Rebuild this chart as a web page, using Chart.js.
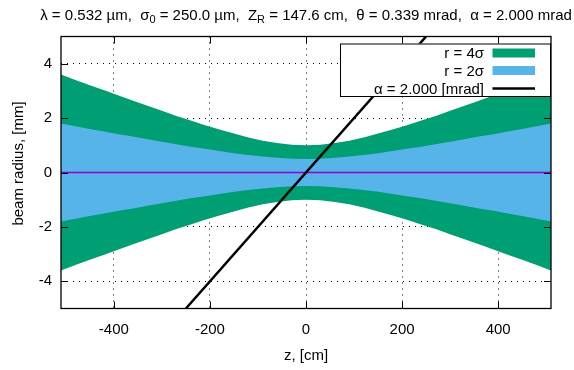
<!DOCTYPE html>
<html lang="en">
<head>
<meta charset="UTF-8">
<title>Gaussian beam envelope</title>
<script src="https://cdn.jsdelivr.net/npm/chart.js"></script>
<style>
  html, body { margin: 0; padding: 0; background: #fff; }
  #wrap { width: 574px; height: 370px; position: relative; }
</style>
</head>
<body>
<div id="wrap"><canvas id="beam"></canvas></div>
<script>
// z along the beam, cm
const zPos = [-510, -480, -450, -420, -390, -360, -330, -300, -270, -240, -210, -180, -150, -120, -90, -60, -30,
              0, 30, 60, 90, 120, 150, 180, 210, 240, 270, 300, 330, 360, 390, 420, 450, 480, 510];
// envelope r = 4 sigma, mm
const r4 = [3.60, 3.40, 3.21, 3.02, 2.83, 2.64, 2.45, 2.27, 2.08, 1.91, 1.74, 1.58, 1.43, 1.29, 1.17, 1.08, 1.02,
            1.00, 1.02, 1.08, 1.17, 1.29, 1.43, 1.58, 1.74, 1.91, 2.08, 2.27, 2.45, 2.64, 2.83, 3.02, 3.21, 3.40, 3.60];
// envelope r = 2 sigma, mm
const r2 = [1.80, 1.70, 1.60, 1.51, 1.41, 1.32, 1.22, 1.13, 1.04, 0.95, 0.87, 0.79, 0.71, 0.64, 0.59, 0.54, 0.51,
            0.50, 0.51, 0.54, 0.59, 0.64, 0.71, 0.79, 0.87, 0.95, 1.04, 1.13, 1.22, 1.32, 1.41, 1.51, 1.60, 1.70, 1.80];
// divergence line, alpha = 2 mrad
const alphaZ = [-250, 250];
const alphaR = [-5, 5];
// beam axis
const axisZ = [-510, 510];
const axisR = [0, 0];

const xTicks = [-400, -200, 0, 200, 400];
const yTicks = [-4, -2, 0, 2, 4];
const keyLabels = ['r = 4σ', 'r = 2σ', 'α = 2.000 [mrad]'];
const titleParts = [
    ['λ = 0.532 µm,  σ', false], ['0', true], [' = 250.0 µm,  Z', false], ['R', true],
    [' = 147.6 cm,  θ = 0.339 mrad,  α = 2.000 mrad', false]
];

const FONT = '"Liberation Sans", Arial, sans-serif';
const GREEN = '#009e73';
const BLUE = '#56b4e9';

const pts = (xs, ys, sign) => xs.map((x, i) => ({ x: x, y: sign * ys[i] }));

// frame, inward ticks, opaque key and titles the gnuplot way
const gnuplotBits = {
    id: 'gnuplotBits',
    afterDatasetsDraw(chart) {
        const ctx = chart.ctx;
        const { left, right, top, bottom } = chart.chartArea;
        const sx = chart.scales.x, sy = chart.scales.y;
        const tl = 7;
        ctx.save();
        ctx.strokeStyle = '#000';
        ctx.lineWidth = 1;
        ctx.beginPath();
        xTicks.forEach(v => {
            const p = Math.round(sx.getPixelForValue(v)) + 0.5;
            ctx.moveTo(p, bottom); ctx.lineTo(p, bottom - tl);
            ctx.moveTo(p, top); ctx.lineTo(p, top + tl);
        });
        yTicks.forEach(v => {
            const p = Math.round(sy.getPixelForValue(v)) + 0.5;
            ctx.moveTo(left, p); ctx.lineTo(left + tl, p);
            ctx.moveTo(right, p); ctx.lineTo(right - tl, p);
        });
        ctx.stroke();

        // key
        const ds = chart.data.datasets;
        const kx0 = 340, kx1 = right, ky0 = top + 7, ky1 = top + 59.5;
        ctx.fillStyle = '#fff';
        ctx.fillRect(kx0, ky0, kx1 - kx0, ky1 - ky0);
        ctx.lineWidth = 1;
        ctx.strokeRect(kx0 + 0.5, ky0 + 0.5, kx1 - kx0 - 1, ky1 - ky0);
        ctx.font = '15px ' + FONT;
        ctx.textAlign = 'right';
        ctx.textBaseline = 'middle';
        const rows = [ky0 + 9.5, ky0 + 27, ky0 + 45];
        const sw0 = right - 58.5, sw1 = right - 16;
        keyLabels.forEach((t, i) => {
            ctx.fillStyle = '#000';
            ctx.fillText(t, right - 67, rows[i] + 1);
            if (i < 2) {
                ctx.fillStyle = ds[i * 2].backgroundColor;
                ctx.fillRect(sw0, rows[i] - 4.5, sw1 - sw0, 9);
            } else {
                ctx.strokeStyle = ds[5].borderColor;
                ctx.lineWidth = ds[5].borderWidth;
                ctx.beginPath();
                ctx.moveTo(sw0, rows[i]); ctx.lineTo(sw1, rows[i]);
                ctx.stroke();
            }
        });

        // frame
        ctx.strokeStyle = '#000';
        ctx.lineWidth = 1.3;
        ctx.strokeRect(left, top, right - left, bottom - top);
        ctx.restore();
    },
    afterDraw(chart) {
        const ctx = chart.ctx;
        const { left, right, top, bottom } = chart.chartArea;
        ctx.save();
        ctx.fillStyle = '#000';
        ctx.textBaseline = 'alphabetic';
        // top title with subscripts
        const big = '15px ' + FONT, small = '11px ' + FONT;
        let w = 0;
        titleParts.forEach(([t, sub]) => { ctx.font = sub ? small : big; w += ctx.measureText(t).width; });
        let x = (left + right) / 2 - w / 2;
        ctx.textAlign = 'left';
        titleParts.forEach(([t, sub]) => {
            ctx.font = sub ? small : big;
            ctx.fillText(t, x, sub ? 23 : 19.5);
            x += ctx.measureText(t).width;
        });
        // axis titles
        ctx.font = big;
        ctx.textAlign = 'center';
        ctx.fillText('z, [cm]', (left + right) / 2, bottom + 51);
        ctx.translate(23, (top + bottom) / 2 - 9);
        ctx.rotate(-Math.PI / 2);
        ctx.fillText('beam radius, [mm]', 0, 0);
        ctx.restore();
    }
};

const band = (data, color, fillTo, order) => ({
    data: data, backgroundColor: color, borderColor: 'rgba(0,0,0,0)', borderWidth: 0,
    pointRadius: 0, fill: fillTo, order: order, tension: 0
});

new Chart(document.getElementById('beam'), {
    type: 'line',
    data: {
        datasets: [
            band(pts(zPos, r4, 1), GREEN, 1, 3),
            band(pts(zPos, r4, -1), GREEN, false, 3),
            band(pts(zPos, r2, 1), BLUE, 3, 2),
            band(pts(zPos, r2, -1), BLUE, false, 2),
            { data: pts(axisZ, axisR, 1), borderColor: '#9400d3', borderWidth: 1.5, pointRadius: 0, fill: false, order: 1 },
            { data: pts(alphaZ, alphaR, 1), borderColor: '#000', borderWidth: 2.5, pointRadius: 0, fill: false, order: 0 }
        ]
    },
    options: {
        responsive: true,
        maintainAspectRatio: false,
        animation: false,
        events: [],
        layout: { padding: { top: 36.5, right: 23, left: 0, bottom: 0 } },
        plugins: { legend: { display: false }, tooltip: { enabled: false }, title: { display: false } },
        scales: {
            x: {
                type: 'linear', min: -510, max: 510,
                afterBuildTicks: s => { s.ticks = xTicks.map(v => ({ value: v })); },
                afterFit: s => { s.height = 61.5; },
                grid: { color: '#000', lineWidth: 1, drawTicks: false },
                border: { display: false, dash: [1, 5] },
                ticks: { padding: 12, color: '#000', maxRotation: 0, font: { family: FONT, size: 15 } }
            },
            y: {
                type: 'linear', min: -5, max: 5,
                afterBuildTicks: s => { s.ticks = yTicks.map(v => ({ value: v })); },
                afterFit: s => { s.width = 61; },
                grid: { color: '#000', lineWidth: 1, drawTicks: false },
                border: { display: false, dash: [1, 5] },
                ticks: { padding: 9, color: '#000', font: { family: FONT, size: 15 } }
            }
        }
    },
    plugins: [gnuplotBits]
});
</script>
</body>
</html>
